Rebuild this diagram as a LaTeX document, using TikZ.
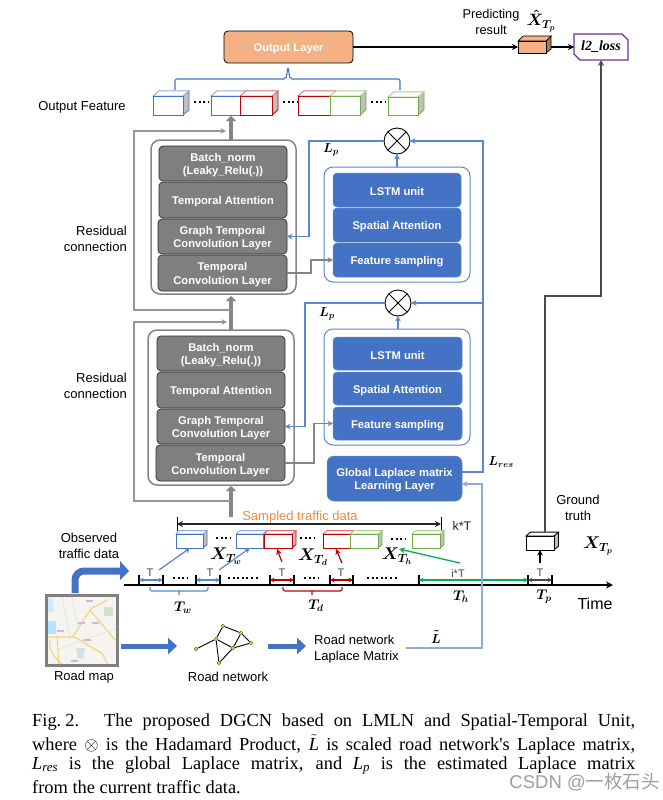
\documentclass[tikz,border=0pt]{standalone}
\usepackage{fix-cm}
\usepackage{amsmath}
\usepackage{fontspec}
\setmainfont{Liberation Sans}
\newfontfamily\serifcap{Liberation Serif}
\newfontfamily\cjk{Noto Sans CJK SC}
\usetikzlibrary{arrows.meta,calc,shapes.misc}
\definecolor{blockgray}{HTML}{7F7F7F}
\definecolor{edgegray}{HTML}{2B2B2B}
\definecolor{framegray}{HTML}{858585}
\definecolor{skipgray}{HTML}{969696}
\definecolor{mainblue}{HTML}{4472C4}
\definecolor{paleblue}{HTML}{8FAADC}
\definecolor{linkblue}{HTML}{5A86D4}
\definecolor{outorange}{HTML}{F4B183}
\definecolor{sampleorange}{HTML}{F08A3C}
\definecolor{lossviolet}{HTML}{7030A0}
\definecolor{darkred}{HTML}{C00000}
\definecolor{palered}{HTML}{E07070}
\definecolor{okgreen}{HTML}{70AD47}
\definecolor{palegreen}{HTML}{A9D18E}
\definecolor{arrowgreen}{HTML}{00B050}
\definecolor{markcolor}{HTML}{4A4A4A}
\definecolor{roadyellow}{HTML}{F3D27E}
\definecolor{mapbg}{HTML}{F5F4EE}
\newcommand{\fs}[1]{\fontsize{#1}{#1}\selectfont}
\newcommand{\mlabel}[1]{{\boldmath$#1$}}
\newcommand{\capL}{\text{\itshape L}}
% box from corners: style, name, x1, y1, x2, y2, text
\newcommand{\bx}[7]{%
  \pgfmathsetmacro{\bxw}{#5-#3}\pgfmathsetmacro{\bxh}{#6-#4}%
  \pgfmathsetmacro{\bxx}{(#3+#5)/2}\pgfmathsetmacro{\bxy}{(#4+#6)/2}%
  \node[#1,minimum width=\bxw pt,minimum height=\bxh pt] (#2) at (\bxx,\bxy) {#7};}
% block with its white text set a little lower than the centre
\newcommand{\bk}[7]{%
  \bx{#1}{#2}{#3}{#4}{#5}{#6}{}%
  \node[blocktext] (#2-text) at ([yshift=-1.7pt]#2.center) {#7};}
% cube: name, x1, y1, x2, y2, edge colour, top colour, depth
\newcommand{\cube}[8]{%
  \pgfmathsetmacro{\cd}{#8}\pgfmathsetmacro{\ce}{#8*0.85}%
  \fill[gray!50] (#4,#3) -- ++(\cd,-\ce) -- (#4+\cd,#5-\ce) -- (#4,#5) -- cycle;
  \draw[#6,line width=.8pt] (#4,#5) -- (#4+\cd,#5-\ce) -- (#4+\cd,#3-\ce);
  \draw[#7,line width=.9pt,fill=white] (#2,#3) -- ++(\cd,-\ce) -- (#4+\cd,#3-\ce) -- (#4,#3) -- cycle;
  \bx{cubefront,draw=#6}{#1}{#2}{#3}{#4}{#5}{}}
\tikzset{
  cubefront/.style={inner sep=0pt,outer sep=0pt,fill=white,line width=.9pt},
  blocktext/.style={text=white,font=\fs{11.2}\bfseries,align=center,inner sep=0pt},
  greyblock/.style={draw=edgegray,fill=blockgray,rounded corners=4pt,line width=.7pt,inner sep=0pt,outer sep=0pt},
  blueblock/.style={draw=mainblue!85!white,fill=mainblue,rounded corners=4pt,line width=.5pt,inner sep=0pt,outer sep=0pt},
  greyframe/.style={draw=framegray,rounded corners=9pt,line width=1.5pt,inner sep=0pt,outer sep=0pt},
  blueframe/.style={draw=linkblue,rounded corners=9pt,line width=1pt,inner sep=0pt,outer sep=0pt},
  label/.style={font=\fs{13},align=center,inner sep=0pt,text=black,yshift=-1.5pt},
  smalllabel/.style={font=\fs{11},inner sep=0pt,text=markcolor,yshift=-1pt},
  mathlabel/.style={inner sep=0pt,font=\fs{14}},
  prodcircle/.style={draw=black,circle,minimum size=26pt,inner sep=0pt,outer sep=0pt,line width=.9pt,path picture={
     \draw[line width=.9pt] (path picture bounding box.north west) ++(3.8pt,-3.8pt) -- ($(path picture bounding box.south east)+(-3.8pt,3.8pt)$);
     \draw[line width=.9pt] (path picture bounding box.north east) ++(-3.8pt,-3.8pt) -- ($(path picture bounding box.south west)+(3.8pt,3.8pt)$);}},
  link/.style={linkblue,line width=1.2pt,-{Stealth[length=5.5pt,width=5.5pt]}},
  greylink/.style={framegray,line width=1.3pt,-{Stealth[length=5.5pt,width=5.5pt]}},
  skiplink/.style={skipgray,line width=1.1pt,-{Stealth[length=5.5pt,width=5.5pt]}},
  mainup/.style={framegray,line width=4.5pt,-{Triangle[length=5pt,width=10pt]}},
  dotsrow/.style={dash pattern=on 2pt off 2.6pt,line width=2pt,black},
  dimarrow/.style={line width=1.2pt,{Stealth[length=4.5pt,width=4.5pt]}-{Stealth[length=4.5pt,width=4.5pt]}},
  tick/.style={black,line width=1.3pt},
  fatarrow/.style={mainblue,line width=5pt,-{Triangle[length=9pt,width=16pt]}},
  netnode/.style={circle,draw=black!70,fill=yellow!75!orange,minimum size=3.8pt,inner sep=0pt,line width=.4pt},
  netedge/.style={black,line width=.9pt},
  captionline/.style={anchor=west,inner sep=0pt,font=\serifcap\fs{18.4},yshift=-1.5pt},
}
\begin{document}
\begin{tikzpicture}[x=1pt,y=-1pt]
\useasboundingbox (0,0) rectangle (663,800);
\fill[white] (0,0) rectangle (663,800);

% ---------- output part
\bk{draw=black,fill=outorange,rounded corners=4pt,line width=.8pt,inner sep=0pt,outer sep=0pt}{outlayer}{224}{31}{353}{63}{Output Layer}
\draw[mainblue,line width=1.1pt,rounded corners=2pt] (175,90) -- (175,79) -- (286,79) -- (288,67) -- (290,79) -- (400,79) -- (400,90);
\node[label,anchor=center] (outfeat) at (82,106) {Output Feature};
\cube{ofa}{153}{96}{183}{115}{mainblue}{paleblue}{6}
\node[inner sep=0pt] (ofd1) at (201,102) {\tikz\draw[dotsrow] (0,0)--(14pt,0);};
\cube{ofb}{211}{96}{243}{115}{mainblue}{paleblue}{6}
\cube{ofc}{240}{96}{272}{115}{darkred}{palered}{6}
\node[inner sep=0pt] (ofd2) at (290,102) {\tikz\draw[dotsrow] (0,0)--(14pt,0);};
\cube{ofd}{298}{96}{330}{115}{darkred}{palered}{6}
\cube{ofe}{330}{96}{360}{115}{okgreen}{palegreen}{6}
\node[inner sep=0pt] (ofd3) at (378,102) {\tikz\draw[dotsrow] (0,0)--(14pt,0);};
\cube{off}{388}{97}{418}{115}{okgreen}{palegreen}{6}

\node[label,font=\fs{12.8}] (predtext) at (491,20.5) {Predicting\\[3pt]result};
\node[mathlabel,font=\fs{16.5}] (predmath) at (541,21) {\mlabel{\hat{X}_{T_p}}};
% orange cube
\fill[outorange!70!black] (546,41) -- ++(5,-5) -- (551,49) -- (546,53) -- cycle;
\draw[black,line width=.7pt] (546,53) -- (551,49) -- (551,36) -- (546,41);
\draw[black,line width=.7pt,fill=outorange] (518,41) -- (523,36) -- (551,36) -- (546,41) -- cycle;
\bx{draw=black,fill=outorange,line width=.7pt,inner sep=0pt,outer sep=0pt}{predcube}{518}{41}{546}{53}{}
\coordinate (predout) at (551,47);
\bx{chamfered rectangle,chamfered rectangle corners={north east,south west},chamfered rectangle xsep=3pt,chamfered rectangle ysep=3pt,draw=lossviolet,line width=1.4pt,fill=white,font=\serifcap\fs{14}\bfseries\itshape,inner sep=0pt,outer sep=0pt}{loss}{574}{34}{628}{60}{l2\_loss}
\draw[black,line width=1.2pt,-{Stealth[length=6pt,width=6pt]}] (outlayer.east) -- (predcube.west);
\draw[black,line width=1.2pt,-{Stealth[length=6pt,width=6pt]}] (predout) -- (loss.west);

% ---------- upper block
\bx{greyframe}{frameA}{151}{140}{296}{294}{}
\bk{greyblock}{batchA}{159}{146}{287}{181}{Batch\_norm\\[2pt](Leaky\_Relu(.))}
\bk{greyblock}{attA}{159}{182}{287}{218}{Temporal Attention}
\bk{greyblock}{gtA}{158}{219}{287}{254}{Graph Temporal\\[2pt]Convolution Layer}
\bk{greyblock}{tcA}{158}{255}{287}{291}{Temporal\\[2pt]Convolution Layer}
\bx{blueframe}{frameB}{324}{167}{470}{282}{}
\bk{blueblock}{lstmA}{333}{173}{461}{207}{LSTM unit}
\bk{blueblock}{saA}{333}{208}{461}{242}{Spatial Attention}
\bk{blueblock}{fsA}{333}{243}{461}{277}{Feature sampling}
\node[prodcircle] (prodA) at (397,141) {};

% ---------- lower block
\bx{greyframe}{frameC}{148}{330}{294}{485}{}
\bk{greyblock}{batchB}{157}{336}{285}{371}{Batch\_norm\\[2pt](Leaky\_Relu(.))}
\bk{greyblock}{attB}{157}{372}{285}{408}{Temporal Attention}
\bk{greyblock}{gtB}{157}{409}{285}{444}{Graph Temporal\\[2pt]Convolution Layer}
\bk{greyblock}{tcB}{156}{445}{285}{481}{Temporal\\[2pt]Convolution Layer}
\bx{blueframe}{frameD}{324}{329}{470}{445}{}
\bk{blueblock}{lstmB}{333}{337}{462}{370}{LSTM unit}
\bk{blueblock}{saB}{333}{372}{462}{405}{Spatial Attention}
\bk{blueblock}{fsB}{333}{407}{462}{440}{Feature sampling}
\node[prodcircle] (prodB) at (398,303) {};
\bk{blueblock,rounded corners=7pt}{global}{327}{456}{462}{501}{Global Laplace matrix\\[2pt]Learning Layer}

% ---------- labels of the blocks
\node[label,align=right,anchor=east] (resA) at (127,237) {Residual\\[3pt]connection};
\node[label,align=right,anchor=east] (resB) at (127,384.5) {Residual\\[3pt]connection};
\node[mathlabel,font=\fs{13}] (lpA) at (331,150) {\mlabel{L_p}};
\node[mathlabel,font=\fs{13}] (lpB) at (327,314) {\mlabel{L_p}};
\node[mathlabel,font=\fs{13}] (lres) at (501,462) {\mlabel{L_{res}}};

% ---------- thick flow and skip links
\coordinate (flowA) at (231,140);
\coordinate (flowAend) at (231,116);
\coordinate (flowB) at (231,330);
\coordinate (flowBend) at (231,296);
\coordinate (flowC) at (231,517);
\coordinate (flowCend) at (231,486);
\draw[mainup] (flowA) -- (flowAend);
\draw[mainup] (flowB) -- (flowBend);
\draw[mainup] (flowC) -- (flowCend);
\coordinate (skipAfrom) at (231,310);
\coordinate (skipAto) at (226,131);
\coordinate (skipBfrom) at (231,501);
\coordinate (skipBto) at (227,322);
\draw[skiplink] (skipAfrom) -- (134,310) |- (skipAto);
\draw[skiplink] (skipBfrom) -- (134,501) |- (skipBto);

% ---------- blue links
\draw[link] (frameB.north -| prodA) -- (prodA.south);
\draw[link] (frameD.north -| prodB) -- (prodB.south);
\draw[link] (prodA.west) -- (309,141) |- (gtA.east);
\draw[link] (prodB.west) -- (305,303) |- (gtB.east);
\draw[link] (global.east |- 0,472) -- (483,472) -- (483,141) -- (prodA.east);
\draw[link] (483,303) -- (prodB.east);
\draw[greylink] (tcA.east) -- (311,273) |- (fsA.west);
\draw[greylink] (tcB.east) -- (314,463) |- (fsB.west);

% ---------- sampled data
\node[font=\fs{13},text=sampleorange,inner sep=0pt,yshift=-1pt] (sampled) at (300,516) {Sampled traffic data};
\coordinate (spanL) at (177,524);
\coordinate (spanR) at (441,524);
\draw[black!85,line width=1.5pt,{Stealth[length=6pt,width=6pt]}-{Stealth[length=6pt,width=6pt]}] (spanL) -- (spanR);
\draw[black,line width=.9pt] (177,517) -- (177,531) (441,517) -- (441,531);
\node[font=\fs{12.5},text=black!85,inner sep=0pt] (kT) at (462,526) {k*T};

\cube{sa}{176}{534}{203}{548}{mainblue}{paleblue}{4}
\node[inner sep=0pt] (sd1) at (223,538) {\tikz\draw[dotsrow] (0,0)--(14pt,0);};
\cube{sb}{236}{534}{263}{548}{mainblue}{paleblue}{4}
\cube{sc}{264}{534}{292}{548}{darkred}{palered}{4}
\node[inner sep=0pt] (sd2) at (307,538) {\tikz\draw[dotsrow] (0,0)--(14pt,0);};
\cube{sd}{323}{534}{350}{548}{darkred}{palered}{4}
\cube{se}{350}{534}{378}{548}{okgreen}{palegreen}{4}
\node[inner sep=0pt] (sd3) at (398,539) {\tikz\draw[dotsrow] (0,0)--(14pt,0);};
\cube{sf}{412}{534}{440}{548}{okgreen}{palegreen}{4}

\node[mathlabel,font=\fs{17}] (xw) at (226,556) {\mlabel{X_{T_w}}};
\node[mathlabel,font=\fs{17}] (xd) at (313,557) {\mlabel{X_{T_d}}};
\node[mathlabel,font=\fs{17}] (xh) at (397,556) {\mlabel{X_{T_h}}};
\node[mathlabel,font=\fs{17}] (xp) at (598,546) {\mlabel{X_{T_p}}};

% ---------- ground truth
\cube{gt}{526}{536}{554}{550}{black}{black}{4.5}
\node[label] (gttext) at (578,506) {Ground\\[3pt]truth};
\draw[markcolor,line width=1.3pt,-{Stealth[length=6pt,width=6pt]}] (545,532) -- (545,296) -- (601,296) -- (loss.south -| 601,60);

% ---------- time axis
\coordinate (axisL) at (124,585);
\coordinate (axisR) at (613,585);
\draw[black,line width=1.7pt,-{Stealth[length=7pt,width=7pt]}] (axisL) -- (axisR);
\foreach \tx/\tn in {139/ta,163/tb,196/tc,220/td,270/te,294/tf,330/tg,353/th,419/ti,528/tj,552/tk}{
  \coordinate (\tn) at (\tx,580);
  \draw[tick] (\tx,575) -- (\tx,585);
}
\draw[dimarrow,linkblue] (ta) -- (tb);
\draw[dimarrow,linkblue] (tc) -- (td);
\draw[dimarrow,darkred] (te) -- (tf);
\draw[dimarrow,darkred] (tg) -- (th);
\draw[dimarrow,arrowgreen] (ti) -- (tj);
\draw[dimarrow,markcolor] (tj) -- (tk);
\foreach \lx/\ln in {150/la,210/lb,282/lc,341/ld,540/le}{
  \node[smalllabel] (\ln) at (\lx,572) {T};
}
\node[smalllabel] (lf) at (458,573) {i*T};
\foreach \dx/\dw/\dn in {180/14/ga,244/32/gb,311/14/gc,383/32/gd}{
  \node[inner sep=0pt] (\dn) at (\dx,578) {\tikz\draw[dotsrow] (0,0)--(\dw pt,0);};
}
\draw[linkblue,line width=1.1pt,rounded corners=2pt] (150,587) -- (150,591) -- (208,591) -- (208,587) (179,591) -- (179,595);
\draw[darkred,line width=1.1pt,rounded corners=2pt] (283,587) -- (283,591) -- (342,591) -- (342,587) (312,591) -- (312,595);
\node[mathlabel] (tw) at (183,608) {\mlabel{T_w}};
\node[mathlabel] (tdl) at (316,606) {\mlabel{T_d}};
\node[mathlabel] (thl) at (461,597) {\mlabel{T_h}};
\node[mathlabel] (tpl) at (544,597) {\mlabel{T_p}};
\node[font=\fs{16},inner sep=0pt] (timel) at (595,604) {Time};

% ---------- oblique arrows
\coordinate (oa1) at (159,570); \coordinate (oa2) at (190,548);
\coordinate (ob1) at (219,570); \coordinate (ob2) at (250,548);
\coordinate (oc1) at (282,562); \coordinate (oc2) at (277,549);
\coordinate (od1) at (342,563); \coordinate (od2) at (336,549);
\coordinate (oe1) at (460,563); \coordinate (oe2) at (399,549);
\coordinate (of1) at (540,563);
\draw[linkblue,line width=1.2pt,-{Stealth[length=5.5pt,width=5.5pt]}] (oa1) -- (oa2);
\draw[linkblue,line width=1.2pt,-{Stealth[length=5.5pt,width=5.5pt]}] (ob1) -- (ob2);
\draw[darkred,line width=1.2pt,-{Stealth[length=5.5pt,width=5.5pt]}] (oc1) -- (oc2);
\draw[darkred,line width=1.2pt,-{Stealth[length=5.5pt,width=5.5pt]}] (od1) -- (od2);
\draw[arrowgreen,line width=1.3pt,-{Stealth[length=6pt,width=6pt]}] (oe1) -- (oe2);
\draw[black,line width=1.2pt,-{Stealth[length=5.5pt,width=5.5pt]}] (of1) -- (gt.south);

% ---------- observed data
\node[label] (obs) at (89,544.5) {Observed\\[3pt]traffic data};
\coordinate (obs1) at (75,593);
\coordinate (obs2) at (129,571);
\draw[mainblue,line width=7pt,rounded corners=9pt] (obs1) -- (75,571) -- (121,571);
\fill[mainblue] (120,561) -- (obs2) -- (120,580) -- cycle;

% ---------- road map
\begin{scope}
\clip (46,595) rectangle (117,665);
\fill[mapbg] (46,595) rectangle (117,665);
\fill[blue!35!cyan!30] (46,621) rectangle (56,634);
\fill[blue!35!cyan!20] (46,595) -- (52,595) -- (54,612) -- (46,612) -- cycle;
\fill[green!35!gray!30] (104,607) rectangle (113,616);
\fill[cyan!30!gray!30] (76,648) -- (85,648) -- (83,659) -- (78,658) -- cycle;
\draw[roadyellow,line width=1.1pt] (48,637) -- (73,637) .. controls (80,638) and (85,645) .. (102,653) -- (108,665);
\draw[roadyellow,line width=1.1pt] (107,600) .. controls (98,606) and (93,606) .. (90,610) -- (76,632) -- (73,637);
\draw[roadyellow,line width=1.1pt] (90,610) -- (115,640);
\draw[roadyellow,line width=1.1pt] (50,640) .. controls (48,650) and (55,658) .. (62,664);
\draw[roadyellow,line width=.9pt] (57,636) -- (59,664);
\draw[gray!30,line width=.4pt] (62,597) -- (70,636) (72,597) -- (78,628) (56,650) -- (117,628);
\foreach \mx/\my in {86/600,78/622,57/630,84/639,71/660,92/622}{\fill[violet!30] (\mx,\my) rectangle ++(7,2);}
\end{scope}
\bx{draw=gray,line width=3pt,inner sep=0pt,outer sep=0pt}{roadmap}{46}{595}{117}{665}{}
\node[label] (rmtext) at (84,676) {Road map};

% ---------- road network
\coordinate (fatAend) at (177,646);
\coordinate (fatBstart) at (268,646);
\coordinate (fatBend) at (306,646);
\draw[fatarrow] (roadmap.east |- fatAend) ++(4,0) -- (fatAend);
\draw[fatarrow] (fatBstart) -- (fatBend);
\node[netnode] (na) at (196,649) {};
\node[netnode] (nb) at (216,639) {};
\node[netnode] (nc) at (223,626) {};
\node[netnode] (nd) at (241,633) {};
\node[netnode] (ne) at (251,643) {};
\node[netnode] (nf) at (233,648) {};
\node[netnode] (ng) at (219,663) {};
\draw[netedge] (na) -- (nb);
\draw[netedge] (nb) -- (nc);
\draw[netedge] (nc) -- (nd);
\draw[netedge] (nd) -- (ne);
\draw[netedge] (nd) -- (nf);
\draw[netedge] (ne) -- (nf);
\draw[netedge] (nb) -- (nf);
\draw[netedge] (nb) -- (ng);
\draw[netedge] (nf) -- (ng);
\node[label] (rntext) at (228,675) {Road network};
\node[label,align=left,anchor=west] (lmtext) at (314,648) {Road network\\[3pt]Laplace Matrix};
\node[mathlabel,font=\fs{13}] (ltilde) at (436,637) {\mlabel{\tilde{L}}};
\coordinate (ltstart) at (406,648);
\draw[paleblue,line width=1.3pt,-{Stealth[length=5.5pt,width=5.5pt]}] (ltstart) -- (482,648) -- (482,484) -- (global.east |- 0,484);

% ---------- caption
\node[captionline] (cap1) at (32,721) {\makebox[603pt][s]{Fig.\kern4pt 2.\kern25pt The proposed DGCN based on LMLN and Spatial-Temporal Unit,}};
\node[captionline] (cap2) at (32,743) {\makebox[603pt][s]{where $\otimes$ is the Hadamard Product, $\tilde{\capL}$ is scaled road network's Laplace matrix,}};
\node[captionline] (cap3) at (32,764) {\makebox[603pt][s]{$\capL_{\text{\itshape res}}$ is the global Laplace matrix, and $\capL_{\text{\itshape p}}$ is the estimated Laplace matrix}};
\node[captionline] (cap4) at (32,786) {from the current traffic data.};
\node[anchor=east,inner sep=0pt,text=black!38,font=\fs{18.5}] (mark) at (660,782) {CSDN @{\cjk 一枚石头}};
\end{tikzpicture}
\end{document}
